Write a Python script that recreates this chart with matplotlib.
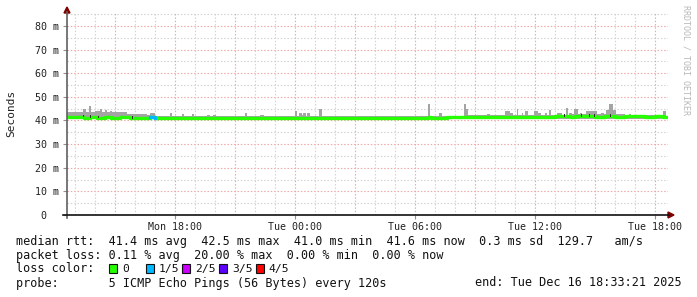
import matplotlib
matplotlib.use('Agg')
import matplotlib.pyplot as plt
import matplotlib.dates as mdates
from matplotlib.patches import Rectangle, Polygon
from matplotlib.lines import Line2D
from datetime import datetime, timedelta

DAYS = {'Mon': datetime(2025, 12, 15), 'Tue': datetime(2025, 12, 16)}


def when(s):
    d, hm = s.split()
    h, m = hm.split(':')
    return DAYS[d] + timedelta(hours=int(h), minutes=int(m))


# ---- data (ms) ----
t_start = 'Mon 12:36'
t_end = 'Tue 18:33'
t_axis_end = 'Tue 18:39'

median_times = ['Mon 12:36', 'Mon 13:15', 'Mon 13:27', 'Mon 13:45', 'Mon 14:06', 'Mon 14:30',
                'Mon 14:48', 'Mon 15:15', 'Mon 15:45', 'Mon 16:45', 'Mon 17:00', 'Tue 06:39',
                'Tue 06:48', 'Tue 07:36', 'Tue 08:00', 'Tue 09:00', 'Tue 10:00', 'Tue 10:30',
                'Tue 11:00', 'Tue 11:30', 'Tue 12:30', 'Tue 13:00', 'Tue 13:45', 'Tue 14:00',
                'Tue 15:00', 'Tue 15:30', 'Tue 16:00', 'Tue 16:30', 'Tue 17:30', 'Tue 18:00',
                'Tue 18:24']
median_ms = [41.4, 41.6, 41.2, 41.5, 41.2, 41.5,
             41.2, 41.3, 41.0, 41.4, 41.0, 41.4,
             41.0, 41.4, 41.3, 41.4, 41.3, 41.5,
             41.3, 41.6, 41.5, 41.7, 41.5, 41.8,
             41.6, 41.8, 41.6, 41.7, 41.5, 41.7,
             41.3]

smoke_times = ['Mon 12:36', 'Mon 13:21', 'Mon 13:24', 'Mon 13:33', 'Mon 13:42', 'Mon 13:48',
               'Mon 14:00', 'Mon 14:15', 'Mon 14:21', 'Mon 14:30', 'Mon 14:36', 'Mon 14:45',
               'Mon 14:51', 'Mon 15:00', 'Mon 15:36', 'Mon 15:54', 'Mon 16:36', 'Mon 16:45',
               'Mon 17:00', 'Mon 17:45', 'Mon 17:51', 'Mon 18:21', 'Mon 18:27', 'Mon 18:51',
               'Mon 18:57', 'Mon 19:36', 'Mon 19:45', 'Mon 19:54', 'Mon 20:03', 'Mon 21:30',
               'Mon 21:36', 'Mon 22:15', 'Mon 22:27', 'Tue 00:00', 'Tue 00:06', 'Tue 00:12',
               'Tue 00:21', 'Tue 00:24', 'Tue 00:33', 'Tue 00:36', 'Tue 00:45', 'Tue 01:12',
               'Tue 01:21', 'Tue 06:39', 'Tue 06:45', 'Tue 07:12', 'Tue 07:21', 'Tue 08:27',
               'Tue 08:33', 'Tue 08:39', 'Tue 09:36', 'Tue 09:45', 'Tue 10:30', 'Tue 10:45',
               'Tue 10:54', 'Tue 11:06', 'Tue 11:09', 'Tue 11:21', 'Tue 11:24', 'Tue 11:30',
               'Tue 11:39', 'Tue 11:57', 'Tue 12:09', 'Tue 12:18', 'Tue 12:30', 'Tue 12:36',
               'Tue 12:42', 'Tue 12:48', 'Tue 13:06', 'Tue 13:21', 'Tue 13:33', 'Tue 13:39',
               'Tue 13:42', 'Tue 13:51', 'Tue 13:57', 'Tue 14:09', 'Tue 14:15', 'Tue 14:21',
               'Tue 14:33', 'Tue 15:06', 'Tue 15:18', 'Tue 15:27', 'Tue 15:33', 'Tue 15:42',
               'Tue 15:54', 'Tue 16:03', 'Tue 16:21', 'Tue 16:30', 'Tue 16:42', 'Tue 16:48',
               'Tue 18:24']
smoke_top_ms = [43.7, 43.4, 44.9, 43.6, 46.2, 43.4,
                44.0, 44.7, 43.6, 44.5, 43.4, 43.9,
                43.4, 43.5, 42.9, 42.6, 42.3, 43.1,
                42.0, 43.0, 42.0, 42.6, 42.0, 42.8,
                42.0, 42.3, 42.0, 42.5, 42.0, 43.2,
                42.0, 42.3, 42.0, 44.1, 42.0, 43.3,
                42.5, 43.3, 42.0, 43.3, 42.0, 45.0,
                42.0, 47.0, 42.0, 43.0, 42.0, 47.0,
                45.0, 42.5, 42.8, 42.2, 44.0, 43.0,
                42.3, 45.0, 42.3, 43.0, 42.3, 44.0,
                42.5, 44.0, 43.0, 42.5, 43.3, 42.5,
                44.6, 42.5, 43.3, 42.5, 45.2, 42.5,
                43.3, 42.6, 44.9, 42.6, 43.3, 42.6,
                44.0, 42.8, 43.3, 42.8, 44.5, 47.0,
                44.3, 42.6, 42.8, 42.5, 42.8, 42.3,
                43.8]

dark_times = ['Mon 13:24', 'Mon 13:45', 'Mon 14:09', 'Mon 15:51', 'Tue 13:27',
              'Tue 14:18', 'Tue 14:42', 'Tue 14:57', 'Tue 15:45']

loss_start = ['Mon 16:45']
loss_stop = ['Mon 17:00']
loss_level = [1]

loss_labels = ['0', '1/5', '2/5', '3/5', '4/5']
loss_colors = ['#26ff00', '#00b8ff', '#cc00ff', '#5e00ff', '#ff0000']

y_ticks = [0, 10, 20, 30, 40, 50, 60, 70, 80]
y_labels = ['0  ', '10 m', '20 m', '30 m', '40 m', '50 m', '60 m', '70 m', '80 m']

legend_lines = [
    'median rtt:  41.4 ms avg  42.5 ms max  41.0 ms min  41.6 ms now  0.3 ms sd  129.7   am/s',
    'packet loss: 0.11 % avg  20.00 % max  0.00 % min  0.00 % now',
    'loss color:',
    'probe:       5 ICMP Echo Pings (56 Bytes) every 120s',
]
end_text = 'end: Tue Dec 16 18:33:21 2025'

# ---- figure ----
W, H = 697, 297
fig = plt.figure(figsize=(W / 100, H / 100), dpi=100)
fig.patch.set_facecolor('white')


def px(x, y):
    return x / W, 1 - y / H


ax = fig.add_axes([67 / W, 82 / H, 601 / W, 203 / H])
ax.set_facecolor('white')

x0, x1 = when(t_start), when(t_axis_end)
ax.set_xlim(x0, x1)
ax.set_ylim(0, 85.9)

# grid
for v in range(5, 86, 5):
    major = v % 10 == 0
    ax.axhline(v, color='#efa7a7' if major else '#d2d2d2', lw=0.8,
               ls=(0, (1.3, 1.7)), zorder=1)
t = DAYS['Mon'] + timedelta(hours=13)
while t < x1:
    major = t.hour % 3 == 0
    ax.axvline(t, color='#efa7a7' if major else '#d2d2d2', lw=0.8,
               ls=(0, (1.3, 1.7)), zorder=1)
    t += timedelta(hours=1)

# smoke
st = [when(s) for s in smoke_times] + [when(t_end)]
sv = smoke_top_ms + [smoke_top_ms[-1]]
ax.fill_between(st, 40.7, sv, step='post', color='#a4a4a4', lw=0, zorder=2)

# median line
mt = [when(s) for s in median_times] + [when(t_end)]
mv = median_ms + [median_ms[-1]]
ax.step(mt, mv, where='post', color=loss_colors[0], lw=2.4, zorder=3)


def median_at(ts):
    val = mv[0]
    for m, v in zip(mt, mv):
        if m <= ts:
            val = v
    return val


for a, b, lvl in zip(loss_start, loss_stop, loss_level):
    ta, tb = when(a), when(b)
    seg_t = [ta] + [m for m in mt if ta < m < tb] + [tb]
    seg_v = [median_at(s) for s in seg_t]
    ax.step(seg_t, seg_v, where='post', color=loss_colors[lvl], lw=2.4, zorder=4)

for s in dark_times:
    ts = when(s)
    val = median_at(ts)
    ax.fill_between([ts, ts + timedelta(minutes=3)], val - 0.3, val + 0.9,
                    color='#303030', lw=0, zorder=4)

# axes / ticks
for sp in ax.spines.values():
    sp.set_visible(False)
mono = 'DejaVu Sans Mono'
ax.set_yticks(y_ticks)
ax.set_yticklabels(y_labels, family=mono, fontsize=7.2, color='#222222')
ax.set_xticks([when('Mon 18:00'), when('Tue 00:00'), when('Tue 06:00'),
               when('Tue 12:00'), when('Tue 18:00')])
ax.xaxis.set_major_formatter(mdates.DateFormatter('%a %H:%M'))
for lab in ax.get_xticklabels():
    lab.set_family(mono)
    lab.set_fontsize(7.2)
    lab.set_color('#222222')
ax.tick_params(axis='y', length=3, width=0.8, color='#909090', pad=3)
ax.tick_params(axis='x', length=3, width=0.8, color='#909090', pad=2)
ax.set_ylabel('Seconds', family=mono, fontsize=8, labelpad=13, color='#222222')

fig.add_artist(Line2D([67 / W, 67 / W], [1 - 218 / H, 1 - 12 / H],
                      transform=fig.transFigure, color='#606060', lw=1.2))
fig.add_artist(Line2D([63 / W, 669 / W], [1 - 215 / H, 1 - 215 / H],
                      transform=fig.transFigure, color='#111111', lw=1.2))
fig.add_artist(Polygon([px(64, 13), px(70, 13), px(67, 7)], closed=True,
                       transform=fig.transFigure, color='#800000'))
fig.add_artist(Polygon([px(668, 212), px(668, 218), px(674, 215)], closed=True,
                       transform=fig.transFigure, color='#800000'))

fig.text(*px(686, 60), 'RRDTOOL / TOBI OETIKER', rotation=270, family=mono,
         fontsize=6, color='#b8b8b8', ha='center', va='center')

# legend text
ys = [241, 255, 269, 283]
for line, y in zip(legend_lines, ys):
    fig.text(*px(16, y), line, family=mono, fontsize=8.5, color='#111111',
             ha='left', va='center')
fig.text(*px(682, 283), end_text, family=mono, fontsize=8.5, color='#111111',
         ha='right', va='center')

bx = 109
for lab, col in zip(loss_labels, loss_colors):
    fig.add_artist(Rectangle(px(bx, 273), 8 / W, 9 / H, transform=fig.transFigure,
                             facecolor=col, edgecolor='#111111', lw=0.8))
    fig.text(*px(bx + 13, 269), lab, family=mono, fontsize=8.2, color='#111111',
             ha='left', va='center')
    bx += 36.7

fig.savefig('out.png', dpi=100, facecolor='white')
